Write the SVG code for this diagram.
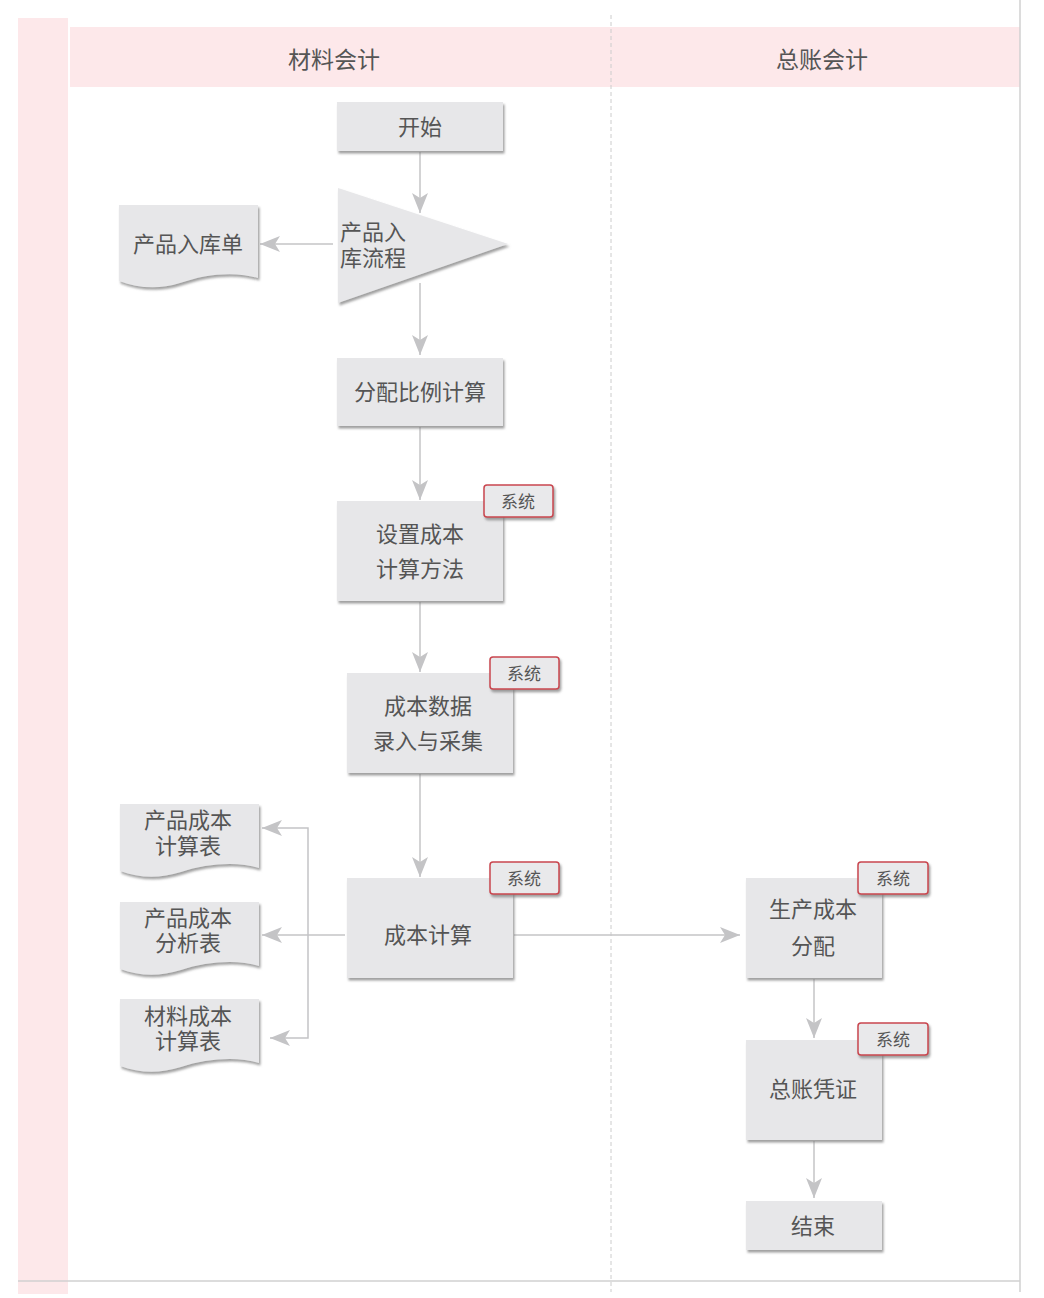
<svg xmlns="http://www.w3.org/2000/svg" width="1044" height="1298" viewBox="0 0 1044 1298">
<defs>
<filter id="sh" x="-10%" y="-10%" width="130%" height="130%">
<feDropShadow dx="1.5" dy="2.5" stdDeviation="1.2" flood-color="#777" flood-opacity="0.7"/>
</filter>
<marker id="ah" viewBox="0 0 20 16" refX="20" refY="8" markerWidth="20" markerHeight="16" markerUnits="userSpaceOnUse" orient="auto">
<path d="M0,0 L20,8 L0,16 L5,8 Z" fill="#c4c4c6"/>
</marker>
<style>
.box{fill:#e7e7e9;filter:url(#sh)}
.tag{fill:#e9e9eb;stroke:#c9454e;stroke-width:1.5;filter:url(#sh)}
.t{font-family:"Noto Sans CJK SC","Liberation Sans",sans-serif;font-size:22px;fill:#555;text-anchor:middle;dominant-baseline:central}
.d{font-family:"Noto Sans CJK SC","Liberation Sans",sans-serif;font-size:22px;fill:#555;text-anchor:middle}
.tt{font-family:"Noto Sans CJK SC","Liberation Sans",sans-serif;font-size:17px;fill:#555;text-anchor:middle;dominant-baseline:central}
.h{font-family:"Noto Sans CJK SC","Liberation Sans",sans-serif;font-size:23px;fill:#555;text-anchor:middle;dominant-baseline:central}
.c{fill:none;stroke:#c4c4c6;stroke-width:1.5}
</style>
</defs>
<rect width="1044" height="1298" fill="#fff"/>
<g id="lanes">
<rect x="18" y="18" width="50" height="1276" fill="#fde8ea"/>
<rect x="70" y="27" width="950" height="60" fill="#fde8ea"/>
<line x1="611" y1="15" x2="611" y2="1292" stroke="#ccc" stroke-width="1" stroke-dasharray="4,3"/>
<line x1="1020" y1="0" x2="1020" y2="1292" stroke="#d0d0d0" stroke-width="1.5"/>
<line x1="18" y1="1281" x2="1020" y2="1281" stroke="#d0d0d0" stroke-width="1.5"/>
<text class="h" x="334" y="58">材料会计</text>
<text class="h" x="822" y="58">总账会计</text>
</g>
<g id="connectors">
<line class="c" x1="420" y1="152" x2="420" y2="213" marker-end="url(#ah)"/>
<line class="c" x1="333" y1="244" x2="260" y2="244" marker-end="url(#ah)"/>
<line class="c" x1="420" y1="283" x2="420" y2="355" marker-end="url(#ah)"/>
<line class="c" x1="420" y1="427" x2="420" y2="500" marker-end="url(#ah)"/>
<line class="c" x1="420" y1="602" x2="420" y2="672" marker-end="url(#ah)"/>
<line class="c" x1="420" y1="774" x2="420" y2="877" marker-end="url(#ah)"/>
<line class="c" x1="345" y1="935" x2="262" y2="935" marker-end="url(#ah)"/>
<polyline class="c" points="308,935 308,828 262,828" marker-end="url(#ah)"/>
<polyline class="c" points="308,935 308,1038 270,1038" marker-end="url(#ah)"/>
<line class="c" x1="514" y1="935" x2="740" y2="935" marker-end="url(#ah)"/>
<line class="c" x1="814" y1="979" x2="814" y2="1038" marker-end="url(#ah)"/>
<line class="c" x1="814" y1="1141" x2="814" y2="1198" marker-end="url(#ah)"/>
</g>
<g id="start">
<rect class="box" x="337" y="102" width="166" height="49"/>
<text class="t" x="420" y="125">开始</text>
</g>
<g id="process-in">
<polygon class="box" points="338,188 508,244 338,303"/>
<text class="d" style="text-anchor:start"><tspan x="340" y="240">产品入</tspan><tspan x="340" y="266">库流程</tspan></text>
</g>
<g id="doc-in">
<path class="box" d="M119,205 H258 V278 C235,271 205,274 180,283 C158,290 138,288 119,281 Z"/>
<text class="t" x="188" y="242">产品入库单</text>
</g>
<g id="ratio">
<rect class="box" x="337" y="358" width="166" height="68"/>
<text class="t" x="420" y="390">分配比例计算</text>
</g>
<g id="method">
<rect class="box" x="337" y="501" width="166" height="100"/>
<text class="t" x="420" y="532">设置成本</text>
<text class="t" x="420" y="567">计算方法</text>
<rect class="tag" x="484" y="485" width="69" height="32" rx="3"/>
<text class="tt" x="518" y="500">系统</text>
</g>
<g id="collect">
<rect class="box" x="347" y="673" width="166" height="100"/>
<text class="t" x="428" y="704">成本数据</text>
<text class="t" x="428" y="739">录入与采集</text>
<rect class="tag" x="490" y="657" width="69" height="32" rx="3"/>
<text class="tt" x="524" y="672">系统</text>
</g>
<g id="calc">
<rect class="box" x="347" y="878" width="166" height="100"/>
<text class="t" x="428" y="933">成本计算</text>
<rect class="tag" x="490" y="862" width="69" height="32" rx="3"/>
<text class="tt" x="524" y="877">系统</text>
</g>
<g id="doc-calc">
<path class="box" d="M120,804 H259 V868 C236,861 206,864 181,872 C159,879 139,878 120,871 Z"/>
<text class="d"><tspan x="188" y="828">产品成本</tspan><tspan x="188" y="854">计算表</tspan></text>
</g>
<g id="doc-analysis">
<path class="box" d="M120,902 H259 V966 C236,959 206,962 181,970 C159,977 139,976 120,969 Z"/>
<text class="d"><tspan x="188" y="926">产品成本</tspan><tspan x="188" y="951">分析表</tspan></text>
</g>
<g id="doc-material">
<path class="box" d="M120,999 H259 V1063 C236,1056 206,1059 181,1067 C159,1074 139,1073 120,1066 Z"/>
<text class="d"><tspan x="188" y="1024">材料成本</tspan><tspan x="188" y="1049">计算表</tspan></text>
</g>
<g id="alloc">
<rect class="box" x="746" y="878" width="136" height="100"/>
<text class="t" x="813" y="907">生产成本</text>
<text class="t" x="813" y="944">分配</text>
<rect class="tag" x="858" y="862" width="70" height="32" rx="3"/>
<text class="tt" x="893" y="877">系统</text>
</g>
<g id="voucher">
<rect class="box" x="746" y="1040" width="136" height="100"/>
<text class="t" x="813" y="1087">总账凭证</text>
<rect class="tag" x="858" y="1023" width="70" height="32" rx="3"/>
<text class="tt" x="893" y="1038">系统</text>
</g>
<g id="end">
<rect class="box" x="746" y="1201" width="136" height="49"/>
<text class="t" x="813" y="1224">结束</text>
</g>
</svg>
